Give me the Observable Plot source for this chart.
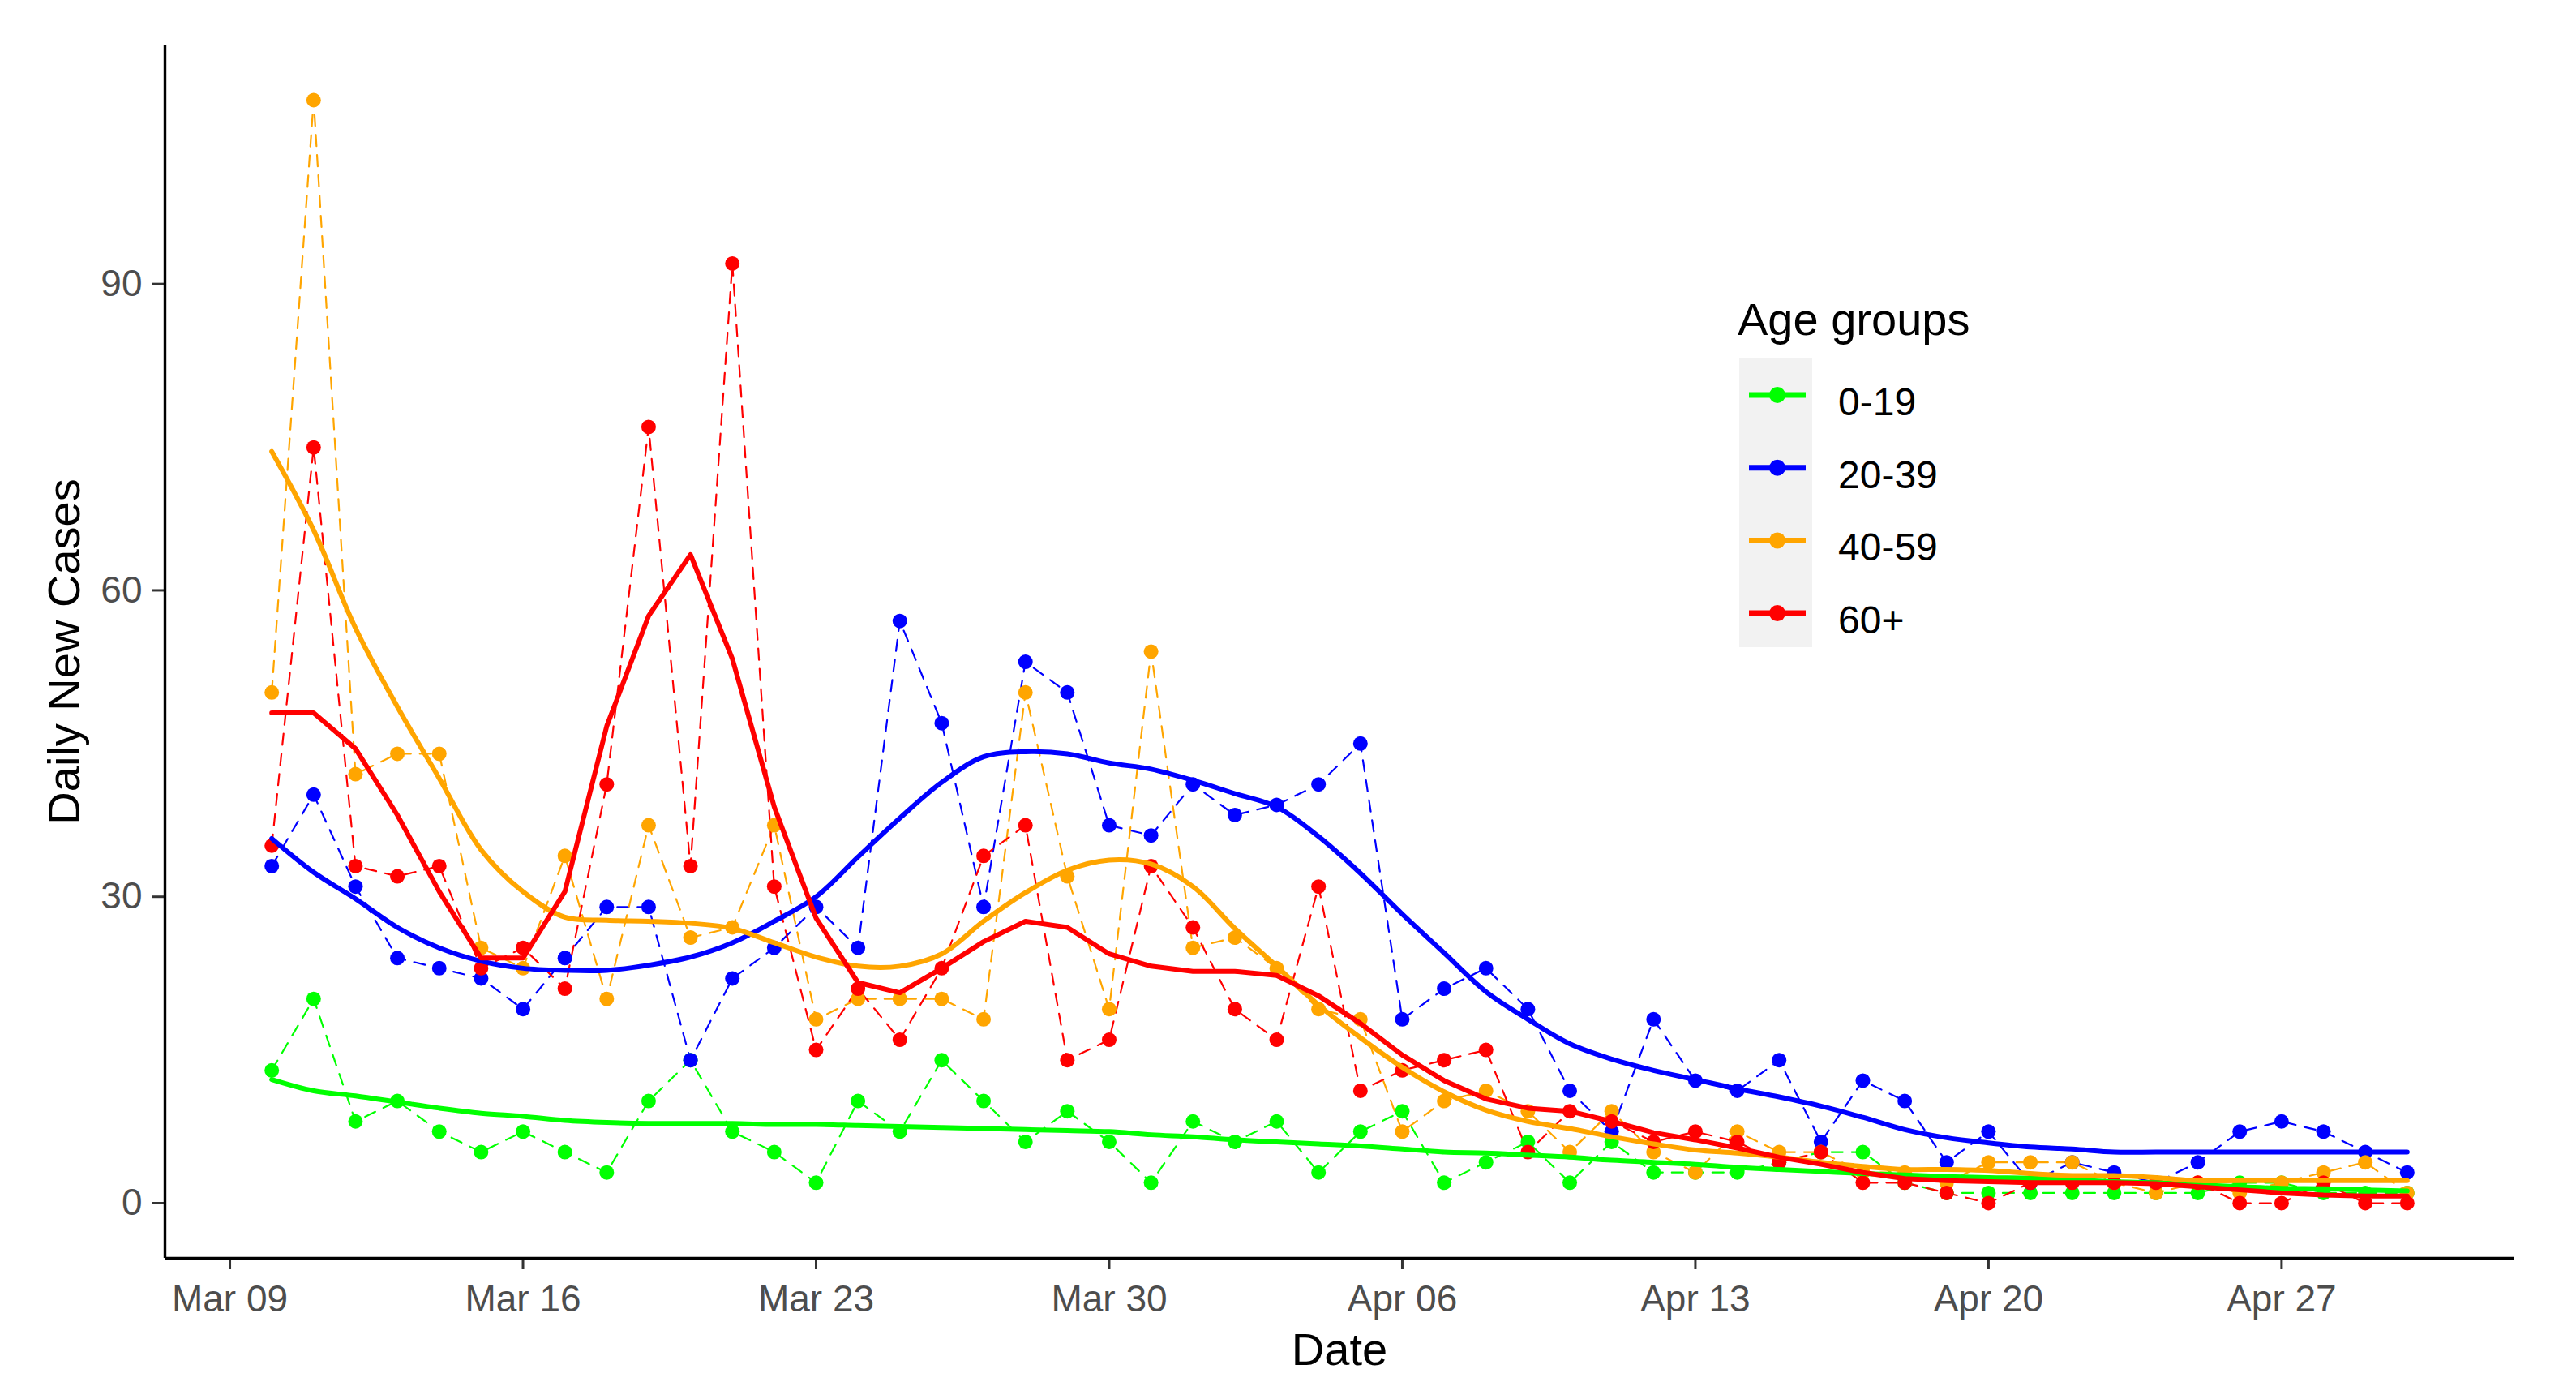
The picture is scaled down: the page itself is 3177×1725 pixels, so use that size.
<!DOCTYPE html>
<html>
<head>
<meta charset="utf-8">
<script src="https://cdn.jsdelivr.net/npm/d3@7"></script>
<script src="https://cdn.jsdelivr.net/npm/@observablehq/plot@0.6"></script>
<style>
html, body { margin: 0; padding: 0; background: #ffffff; }
#chart { position: relative; width: 3177px; height: 1725px; }
</style>
</head>
<body>
<div id="chart"></div>
<script>
// ---- data ----
const dates = [
  "2020-03-10","2020-03-11","2020-03-12","2020-03-13","2020-03-14","2020-03-15","2020-03-16","2020-03-17","2020-03-18","2020-03-19",
  "2020-03-20","2020-03-21","2020-03-22","2020-03-23","2020-03-24","2020-03-25","2020-03-26","2020-03-27","2020-03-28","2020-03-29",
  "2020-03-30","2020-03-31","2020-04-01","2020-04-02","2020-04-03","2020-04-04","2020-04-05","2020-04-06","2020-04-07","2020-04-08",
  "2020-04-09","2020-04-10","2020-04-11","2020-04-12","2020-04-13","2020-04-14","2020-04-15","2020-04-16","2020-04-17","2020-04-18",
  "2020-04-19","2020-04-20","2020-04-21","2020-04-22","2020-04-23","2020-04-24","2020-04-25","2020-04-26","2020-04-27","2020-04-28",
  "2020-04-29","2020-04-30"
];
const groups = ["0-19", "20-39", "40-59", "60+"];
const groupColors = ["#00FF00", "#0000FF", "#FFA500", "#FF0000"];

const cases0to19 = [13,20,8,10,7,5,7,5,3,10, 14,7,5,2,10,7,14,10,6,9, 6,2,8,6,8,3,7,9,2,4, 6,2,6,3,3,3,4,5,5,2, 1,1,1,1,1,1,1,2,2,1, 1,1];
const cases20to39 = [33,40,31,24,23,22,19,24,29,29, 14,22,25,29,25,57,47,29,53,50, 37,36,41,38,39,41,45,18,21,23, 19,11,7,18,12,11,14,6,12,10, 4,7,2,4,3,2,4,7,8,7, 5,3];
const cases40to59 = [50,108,42,44,44,25,23,34,20,37, 26,27,37,18,20,20,20,18,50,32, 19,54,25,26,23,19,18,7,10,11, 9,5,9,5,3,7,5,5,3,3, 2,4,4,4,2,1,2,1,2,3, 4,1];
const cases60plus = [35,74,33,32,33,23,25,21,41,76, 33,92,31,15,21,16,23,34,37,14, 16,33,27,19,16,31,11,13,14,15, 5,9,8,6,7,6,4,5,2,2, 1,0,2,2,2,2,2,0,0,2, 0,0];

// smoothed trend curves
const trend0to19 = [12.1,11.0,10.5,9.9,9.3,8.8,8.5,8.1,7.9,7.8, 7.8,7.8,7.7,7.7,7.6,7.5,7.4,7.3,7.2,7.1, 7.0,6.7,6.5,6.2,6.0,5.8,5.6,5.3,5.0,4.9, 4.7,4.5,4.2,4.0,3.8,3.5,3.3,3.1,2.9,2.75, 2.6,2.5,2.45,2.3,2.1,2.0,1.8,1.6,1.45,1.4, 1.3,1.2];
const trend20to39 = [35.7,32.4,29.8,27.0,25.0,23.7,23.0,22.8,22.8,23.3, 24.1,25.5,27.6,30.0,33.9,37.7,41.2,43.7,44.2,44.0, 43.1,42.5,41.4,40.1,38.8,35.9,32.3,28.3,24.5,20.7, 18.0,15.6,14.1,13.0,12.1,11.2,10.4,9.5,8.4,7.2, 6.4,5.9,5.5,5.3,5.0,5.0,5.0,5.0,5.0,5.0, 5.0,5.0];
const trend40to59 = [73.6,65.9,56.3,48.6,41.6,34.6,30.5,28.0,27.7,27.6, 27.4,26.9,25.5,24.1,23.2,23.2,24.4,27.6,30.4,32.6, 33.6,33.2,31.0,26.9,23.2,19.4,16.2,13.3,10.9,9.1, 8.0,7.3,6.5,5.8,5.2,4.9,4.5,4.0,3.6,3.3, 3.3,3.2,2.9,2.7,2.7,2.5,2.2,2.2,2.2,2.2, 2.2,2.2];
const trend60plus = [48,48,44.5,38,30.5,24,24,30.5,46.7,57.5, 63.5,53.3,38.8,27.9,21.6,20.6,23.0,25.6,27.6,27.0, 24.4,23.2,22.7,22.7,22.3,20.3,17.6,14.5,12.0,10.2, 9.3,9.0,8.0,6.9,6.2,5.4,4.5,3.8,3.0,2.4, 2.2,2.1,2.0,2.0,2.0,1.9,1.6,1.3,1.0,0.8, 0.7,0.7];

const xTickLabels = ["2020-03-09","2020-03-16","2020-03-23","2020-03-30","2020-04-06","2020-04-13","2020-04-20","2020-04-27"];
const yTicks = [0, 30, 60, 90];

// ---- tables ----
const caseSeries = [cases0to19, cases20to39, cases40to59, cases60plus];
const trendSeries = [trend0to19, trend20to39, trend40to59, trend60plus];
const parsed = dates.map(d => new Date(d + "T00:00:00Z"));
const rows = [];
const trendRows = [];
groups.forEach((g, gi) => {
  parsed.forEach((d, i) => {
    rows.push({date: d, group: g, value: caseSeries[gi][i]});
    trendRows.push({date: d, group: g, value: trendSeries[gi][i]});
  });
});

// ggplot-style 5% expansion of the scales
const x0 = parsed[0], x1 = parsed[parsed.length - 1];
const xPad = (x1 - x0) * 0.05;
const xDomain = [new Date(+x0 - xPad), new Date(+x1 + xPad)];
const yMax = d3.max(rows, d => d.value), yMin = 0;
const yPad = (yMax - yMin) * 0.05;
const yDomain = [yMin - yPad, yMax + yPad];

const font = "'Liberation Sans', Arial, Helvetica, sans-serif";

const chart = Plot.plot({
  width: 3177,
  height: 1725,
  marginLeft: 203,
  marginRight: 77,
  marginTop: 55,
  marginBottom: 174,
  x: {type: "utc", domain: xDomain},
  y: {domain: yDomain},
  color: {domain: groups, range: groupColors},
  style: {fontFamily: font, background: "#ffffff", overflow: "visible"},
  marks: [
    // dashed connecting lines
    Plot.line(rows, {x: "date", y: "value", z: "group", stroke: "group", strokeWidth: 2.2, strokeDasharray: "14,11"}),
    // daily points
    Plot.dot(rows, {x: "date", y: "value", fill: "group", r: 9, stroke: null}),
    // smoothed trends
    Plot.line(trendRows.filter(d => d.group !== "60+"), {x: "date", y: "value", z: "group", stroke: "group", strokeWidth: 6, curve: "catmull-rom"}),
    Plot.line(trendRows.filter(d => d.group === "60+"), {x: "date", y: "value", z: "group", stroke: "group", strokeWidth: 6, curve: "linear"}),
    // axes
    Plot.axisX({
      ticks: xTickLabels.map(d => new Date(d + "T00:00:00Z")),
      tickFormat: d3.utcFormat("%b %d"),
      tickSize: 14, tickPadding: 19, fontSize: 46,
      fill: "#4D4D4D", stroke: "#333333", strokeWidth: 3, label: null
    }),
    Plot.axisY({
      ticks: yTicks, tickSize: 15, tickPadding: 13, fontSize: 46,
      fill: "#4D4D4D", stroke: "#333333", strokeWidth: 3, label: null
    }),
    Plot.ruleX([xDomain[0]], {stroke: "#000000", strokeWidth: 3.4}),
    Plot.ruleY([yDomain[0]], {stroke: "#000000", strokeWidth: 3.4}),
    Plot.text(["Date"], {frameAnchor: "bottom", dy: 114, fontSize: 56, fill: "#000000", textAnchor: "middle", lineAnchor: "middle"}),
    Plot.text(["Daily New Cases"], {frameAnchor: "left", dx: -123, rotate: -90, fontSize: 56, fill: "#000000", textAnchor: "middle", lineAnchor: "middle"})
  ]
});

document.getElementById("chart").append(chart);

// ---- legend (inside the panel, as in the reference) ----
const svg = d3.select(chart);
const lg = svg.append("g").attr("font-family", font).attr("text-anchor", "start");
lg.append("text").attr("x", 2143).attr("y", 413).attr("font-size", 56).attr("fill", "#000").attr("text-anchor", "start").text("Age groups");
lg.append("rect").attr("x", 2145).attr("y", 441).attr("width", 90).attr("height", 357).attr("fill", "#F2F2F2");
groups.forEach((g, i) => {
  const cy = 487 + 89.7 * i;
  lg.append("line").attr("x1", 2157).attr("x2", 2227).attr("y1", cy).attr("y2", cy)
    .attr("stroke", groupColors[i]).attr("stroke-width", 7);
  lg.append("circle").attr("cx", 2192).attr("cy", cy).attr("r", 10).attr("fill", groupColors[i]);
  lg.append("text").attr("x", 2267).attr("y", cy + 25).attr("font-size", 48).attr("fill", "#000").attr("text-anchor", "start").text(g);
});
</script>
</body>
</html>
